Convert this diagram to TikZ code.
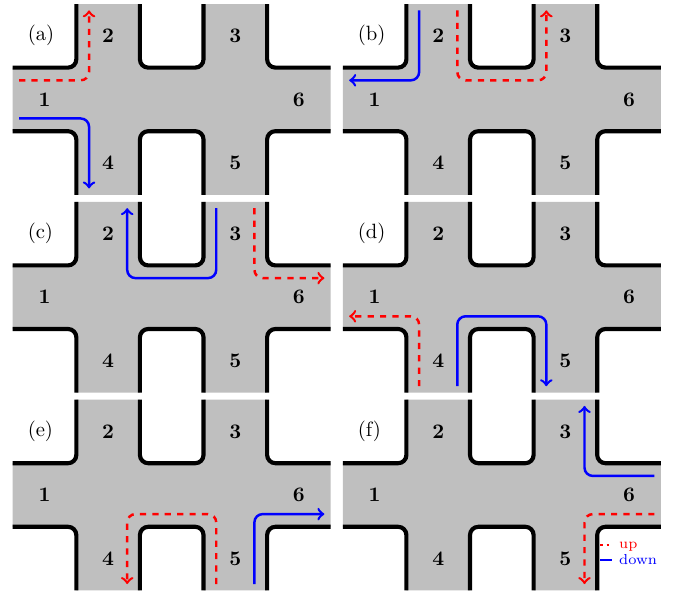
\documentclass[tikz,border=0pt]{standalone}
\begin{document}
\begin{tikzpicture}[x=1.081cm,y=1.081cm,
  roadfill/.style={fill=gray!50},
  curb/.style={line width=2pt, rounded corners=4pt},
  upflow/.style={red, very thick, dashed, rounded corners=4pt, ->},
  downflow/.style={blue, very thick, rounded corners=4pt, ->},
  exitlabel/.style={font=\bfseries},
  panellabel/.style={anchor=west, inner sep=0pt},
  keytext/.style={anchor=base west, inner sep=0pt, font=\scriptsize}]
\useasboundingbox (-0.2,-0.041) rectangle (10.413,9.283);

% six copies of the double junction: road surface, curbs and exit numbers
\foreach \p/\dx/\dy in {a/0/6.22, b/5.19/6.22, c/0/3.11, d/5.19/3.11, e/0/0, f/5.19/0}{
  \begin{scope}[shift={(\dx,\dy)}]
    % road surface; only the inner corners are rounded
    \fill[roadfill] (0,1) -- (0,2) -- (0.5,2) [rounded corners=4pt] -- (1,2) -- (1,2.5) [sharp corners] -- (1,3)
      -- (2,3) -- (2,2.5) [rounded corners=4pt] -- (2,2) -- (3,2) -- (3,2.5) [sharp corners] -- (3,3)
      -- (4,3) -- (4,2.5) [rounded corners=4pt] -- (4,2) -- (4.5,2) [sharp corners] -- (5,2)
      -- (5,1) -- (4.5,1) [rounded corners=4pt] -- (4,1) -- (4,0.5) [sharp corners] -- (4,0)
      -- (3,0) -- (3,0.5) [rounded corners=4pt] -- (3,1) -- (2,1) -- (2,0.5) [sharp corners] -- (2,0)
      -- (1,0) -- (1,0.5) [rounded corners=4pt] -- (1,1) -- (0.5,1) [sharp corners] -- cycle;
    % curbs
    \draw[curb] (0,2) -- (1,2) -- (1,3);
    \draw[curb] (2,3) -- (2,2) -- (3,2) -- (3,3);
    \draw[curb] (4,3) -- (4,2) -- (5,2);
    \draw[curb] (0,1) -- (1,1) -- (1,0);
    \draw[curb] (2,0) -- (2,1) -- (3,1) -- (3,0);
    \draw[curb] (4,0) -- (4,1) -- (5,1);
    % exits
    \node[exitlabel] (\p1) at (0.5,1.5) {1};
    \node[exitlabel] (\p2) at (1.5,2.5) {2};
    \node[exitlabel] (\p3) at (3.5,2.5) {3};
    \node[exitlabel] (\p4) at (1.5,0.5) {4};
    \node[exitlabel] (\p5) at (3.5,0.5) {5};
    \node[exitlabel] (\p6) at (4.5,1.5) {6};
    \node[panellabel] (\p tag) at (0.23,2.5) {(\p)};
  \end{scope}
}

% (a)
\begin{scope}[shift={(0,6.22)}]
  \draw[upflow] (0.1,1.8) -- (1.2,1.8) -- (1.2,2.9);
  \draw[downflow] (0.1,1.2) -- (1.2,1.2) -- (1.2,0.1);
\end{scope}
% (b)
\begin{scope}[shift={(5.19,6.22)}]
  \draw[downflow] (1.2,2.9) -- (1.2,1.8) -- (0.1,1.8);
  \draw[upflow] (1.8,2.9) -- (1.8,1.8) -- (3.2,1.8) -- (3.2,2.9);
\end{scope}
% (c)
\begin{scope}[shift={(0,3.11)}]
  \draw[downflow] (3.2,2.9) -- (3.2,1.8) -- (1.8,1.8) -- (1.8,2.9);
  \draw[upflow] (3.8,2.9) -- (3.8,1.8) -- (4.9,1.8);
\end{scope}
% (d)
\begin{scope}[shift={(5.19,3.11)}]
  \draw[upflow] (1.2,0.1) -- (1.2,1.2) -- (0.1,1.2);
  \draw[downflow] (1.8,0.1) -- (1.8,1.2) -- (3.2,1.2) -- (3.2,0.1);
\end{scope}
% (e)
\begin{scope}[shift={(0,0)}]
  \draw[upflow] (3.2,0.1) -- (3.2,1.2) -- (1.8,1.2) -- (1.8,0.1);
  \draw[downflow] (3.8,0.1) -- (3.8,1.2) -- (4.9,1.2);
\end{scope}
% (f) with the key
\begin{scope}[shift={(5.19,0)}]
  \draw[downflow] (4.9,1.8) -- (3.8,1.8) -- (3.8,2.9);
  \draw[upflow] (4.9,1.2) -- (3.8,1.2) -- (3.8,0.1);
  \draw[red, very thick, dotted] (4.045,0.714) -- (4.227,0.714);
  \draw[blue, very thick] (4.045,0.478) -- (4.227,0.478);
  \node[keytext, text=red] (upkey) at (4.338,0.662) {up};
  \node[keytext, text=blue] (downkey) at (4.338,0.41) {down};
\end{scope}
\end{tikzpicture}
\end{document}
